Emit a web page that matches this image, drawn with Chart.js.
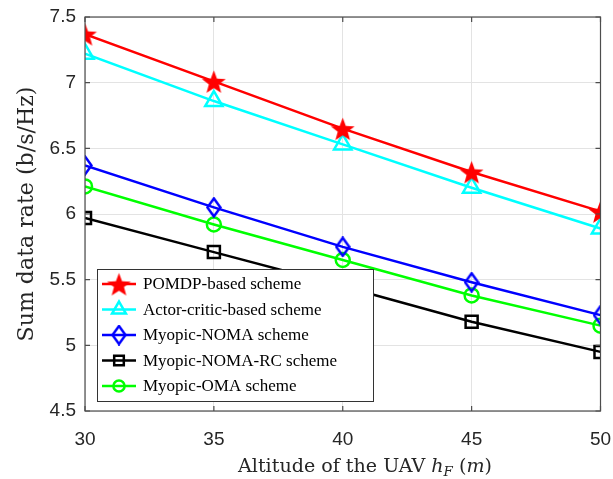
<!DOCTYPE html>
<html>
<head>
<meta charset="utf-8">
<script src="https://cdn.jsdelivr.net/npm/chart.js@4"></script>
<style>
  html, body { margin: 0; padding: 0; background: #fff; }
  #wrap { width: 613px; height: 479px; }
</style>
</head>
<body>
<div id="wrap"><canvas id="myChart" width="613" height="479"></canvas></div>
<script>
var altitudes = [30, 35, 40, 45, 50];
var pomdp = [7.37, 7.01, 6.65, 6.32, 6.02];
var actorCritic = [7.22, 6.86, 6.53, 6.20, 5.89];
var myopicNoma = [6.37, 6.05, 5.75, 5.48, 5.23];
var myopicNomaRc = [5.97, 5.71, 5.45, 5.18, 4.95];
var myopicOma = [6.21, 5.92, 5.65, 5.38, 5.15];
var yTicks = [4.5, 5, 5.5, 6, 6.5, 7, 7.5];

var serif = '"Liberation Serif", "DejaVu Serif", serif';
var titleSerif = '"DejaVu Serif", "Liberation Serif", serif';
var sans = '"Liberation Sans", Arial, sans-serif';

// filled star marker
function starImage(size, color) {
  var c = document.createElement('canvas');
  c.width = size; c.height = size;
  var g = c.getContext('2d');
  var r = size / 2, ri = r * 0.42;
  g.beginPath();
  for (var i = 0; i < 10; i++) {
    var a = -Math.PI / 2 + i * Math.PI / 5;
    var rr = i % 2 === 0 ? r : ri;
    g.lineTo(r + rr * Math.cos(a), r + 1.5 + rr * Math.sin(a));
  }
  g.closePath();
  g.fillStyle = color;
  g.fill();
  return c;
}

// hollow tall diamond marker
function diamondImage(w, h, color) {
  var c = document.createElement('canvas');
  c.width = w; c.height = h;
  var g = c.getContext('2d');
  g.beginPath();
  g.moveTo(w / 2, 1.5); g.lineTo(w - 1.5, h / 2);
  g.lineTo(w / 2, h - 1.5); g.lineTo(1.5, h / 2);
  g.closePath();
  g.strokeStyle = color;
  g.lineWidth = 2.5;
  g.stroke();
  return c;
}

var star = starImage(25, 'rgb(255,0,0)');
var diamond = diamondImage(16, 21, 'rgb(0,0,255)');

function series(label, data, color, style, radius) {
  return {
    label: label,
    data: data,
    borderColor: color,
    backgroundColor: color,
    borderWidth: 2.5,
    pointStyle: style,
    pointRadius: radius,
    pointHoverRadius: radius,
    pointBorderWidth: 2.5,
    pointBackgroundColor: 'rgba(0,0,0,0)',
    pointBorderColor: color,
    tension: 0
  };
}

var datasets = [
  series('POMDP-based scheme', pomdp, 'rgb(255,0,0)', star, 10),
  series('Actor-critic-based scheme', actorCritic, 'rgb(0,255,255)', 'triangle', 10),
  series('Myopic-NOMA scheme', myopicNoma, 'rgb(0,0,255)', diamond, 9),
  series('Myopic-NOMA-RC scheme', myopicNomaRc, 'rgb(0,0,0)', 'rect', 8.5),
  series('Myopic-OMA scheme', myopicOma, 'rgb(0,255,0)', 'circle', 7)
];

function fitFont(ctx, text, family, target) {
  ctx.font = '20px ' + family;
  return 20 * target / ctx.measureText(text).width;
}

var decor = {
  id: 'decor',
  afterDatasetsDraw: function (chart) {
    var ctx = chart.ctx, a = chart.chartArea;
    var xs = chart.scales.x, ys = chart.scales.y;
    ctx.save();
    // box
    ctx.strokeStyle = '#4d4d4d';
    ctx.lineWidth = 1.2;
    ctx.strokeRect(a.left, a.top, a.right - a.left, a.bottom - a.top);
    // inward ticks
    ctx.beginPath();
    altitudes.forEach(function (v) {
      var x = xs.getPixelForValue(v);
      ctx.moveTo(x, a.bottom); ctx.lineTo(x, a.bottom - 5);
      ctx.moveTo(x, a.top); ctx.lineTo(x, a.top + 5);
    });
    yTicks.forEach(function (v) {
      var y = ys.getPixelForValue(v);
      ctx.moveTo(a.left, y); ctx.lineTo(a.left + 5, y);
      ctx.moveTo(a.right, y); ctx.lineTo(a.right - 5, y);
    });
    ctx.stroke();

    // x tick labels (drawn here so the last one may run off the edge)
    ctx.fillStyle = '#262626';
    ctx.font = '19px ' + sans;
    ctx.textAlign = 'center';
    ctx.textBaseline = 'middle';
    altitudes.forEach(function (v) {
      ctx.fillText(String(v), xs.getPixelForValue(v), a.bottom + 29);
    });

    // legend
    var lx = 97, ly = 269, lw = 276, lh = 132;
    ctx.fillStyle = '#fff';
    ctx.fillRect(lx, ly, lw, lh);
    ctx.strokeStyle = '#333';
    ctx.lineWidth = 1;
    ctx.strokeRect(lx + 0.5, ly + 0.5, lw, lh);
    ctx.font = '17px ' + serif;
    ctx.textAlign = 'left';
    chart.data.datasets.forEach(function (ds, i) {
      var y = ly + 15 + i * 25.5;
      ctx.strokeStyle = ds.borderColor;
      ctx.lineWidth = 2.5;
      ctx.beginPath();
      ctx.moveTo(lx + 5, y); ctx.lineTo(lx + 39, y);
      ctx.stroke();
      ctx.fillStyle = 'rgba(0,0,0,0)';
      Chart.helpers.drawPoint(ctx, {
        pointStyle: ds.pointStyle,
        radius: ds.pointRadius * 0.8,
        borderWidth: 2.5,
        rotation: 0
      }, lx + 22, y);
      ctx.fillStyle = '#000';
      ctx.fillText(ds.label, lx + 46, y + 1);
    });

    // axis titles
    ctx.fillStyle = '#262626';
    ctx.textBaseline = 'alphabetic';
    var yTitle = 'Sum data rate (b/s/Hz)';
    var ySize = fitFont(ctx, yTitle, titleSerif, 255);
    ctx.font = ySize.toFixed(1) + 'px ' + titleSerif;
    ctx.save();
    ctx.translate(33, (a.top + a.bottom) / 2);
    ctx.rotate(-Math.PI / 2);
    ctx.textAlign = 'center';
    ctx.fillText(yTitle, 0, 0);
    ctx.restore();

    var s = fitFont(ctx, 'Altitude of the UAV hF (m)', titleSerif, 258);
    var parts = [
      { t: 'Altitude of the UAV ', f: s + 'px ' + titleSerif, dy: 0 },
      { t: 'h', f: 'italic ' + s + 'px ' + titleSerif, dy: 0 },
      { t: 'F', f: 'italic ' + (s * 0.7) + 'px ' + titleSerif, dy: 4 },
      { t: ' (', f: s + 'px ' + titleSerif, dy: 0 },
      { t: 'm', f: 'italic ' + s + 'px ' + titleSerif, dy: 0 },
      { t: ')', f: s + 'px ' + titleSerif, dy: 0 }
    ];
    var total = 0;
    parts.forEach(function (p) { ctx.font = p.f; p.w = ctx.measureText(p.t).width; total += p.w; });
    var x0 = 365 - total / 2, by = 472;
    ctx.textAlign = 'left';
    parts.forEach(function (p) {
      ctx.font = p.f;
      ctx.fillText(p.t, x0, by + p.dy);
      x0 += p.w;
    });
    ctx.restore();
  }
};

var ctx = document.getElementById('myChart').getContext('2d');
var chart = new Chart(ctx, {
  type: 'line',
  data: { datasets: datasets.map(function (d) {
    d.data = d.data.map(function (v, i) { return { x: altitudes[i], y: v }; });
    return d;
  }) },
  options: {
    responsive: false,
    animation: false,
    events: [],
    layout: { padding: { top: 17, right: 9, left: 0, bottom: 0 } },
    plugins: { legend: { display: false }, tooltip: { enabled: false } },
    scales: {
      x: {
        type: 'linear',
        min: 30, max: 50,
        afterFit: function (s) { s.height = 68; },
        afterBuildTicks: function (s) { s.ticks = altitudes.map(function (v) { return { value: v }; }); },
        grid: { color: '#e3e3e3', lineWidth: 1, drawTicks: false },
        border: { display: false },
        ticks: { display: false }
      },
      y: {
        min: 4.5, max: 7.5,
        afterFit: function (s) { s.width = 85; s.paddingTop = 0; s.paddingBottom = 0; },
        afterBuildTicks: function (s) { s.ticks = yTicks.map(function (v) { return { value: v }; }); },
        grid: { color: '#e3e3e3', lineWidth: 1, drawTicks: false },
        border: { display: false },
        ticks: {
          font: { family: sans, size: 19 }, color: '#262626', padding: 9,
          callback: function (v) { return String(v); }
        }
      }
    }
  },
  plugins: [decor]
});
</script>
</body>
</html>
